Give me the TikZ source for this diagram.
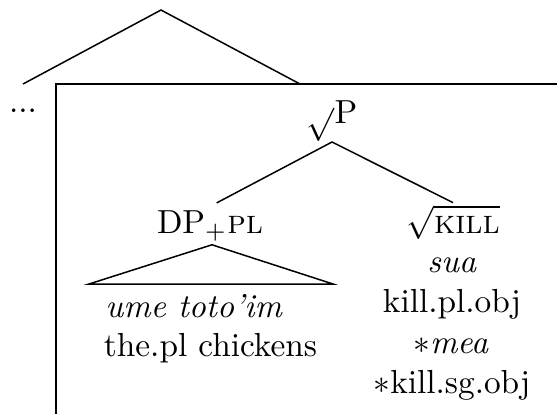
\documentclass[tikz,border=0pt]{standalone}
\begin{document}
\begin{tikzpicture}[x=0.3pt,y=-0.3pt,
  lbl/.style={inner sep=0pt, anchor=base},
  edge/.style={line width=0.45pt}]
\useasboundingbox (0,0) rectangle (557,414);
% upper tree part and box
\coordinate (top) at (161,10);
\coordinate (topL) at (23,84);
\coordinate (topR) at (300,84);
\coordinate (boxR) at (557,84);
\coordinate (boxTL) at (56,84);
\coordinate (boxB) at (56,414);
\draw[edge] (topL) -- (top) -- (topR);
\draw[edge] (boxR) -- (boxTL) -- (boxB);
\node[lbl] (dots) at (23,112.5) {...};
% nodes
\node[lbl] (P) at (332,123) {\raisebox{-3pt}{$\surd$}P};
\node[lbl] (DP) at (210,233) {DP$_+$\textsc{pl}};
\node[lbl] (KILL) at (453,233) {$\sqrt{\textsc{kill}}$};
\node[lbl] (ume) at (194,317) {\textit{ume toto’im}};
\node[lbl] (the) at (210.5,356) {the.pl chickens};
\node[lbl] (sua) at (452,272) {\textit{sua}};
\node[lbl] (klp) at (452,312) {kill.pl.obj};
\node[lbl] (mea) at (451,353) {$*$\textit{mea}};
\node[lbl] (kls) at (452,393) {$*$kill.sg.obj};
% connectors
\draw[edge] ([xshift=2pt,yshift=2pt]DP.north) -- ([yshift=-5.7pt]P.base) -- ([yshift=0.5pt]KILL.north);
\coordinate (triL) at (89,284);
\coordinate (triR) at (333,284);
\draw[edge] (triL) -- ([xshift=0.6pt,yshift=-1pt]DP.south) -- (triR) -- cycle;
\end{tikzpicture}
\end{document}
